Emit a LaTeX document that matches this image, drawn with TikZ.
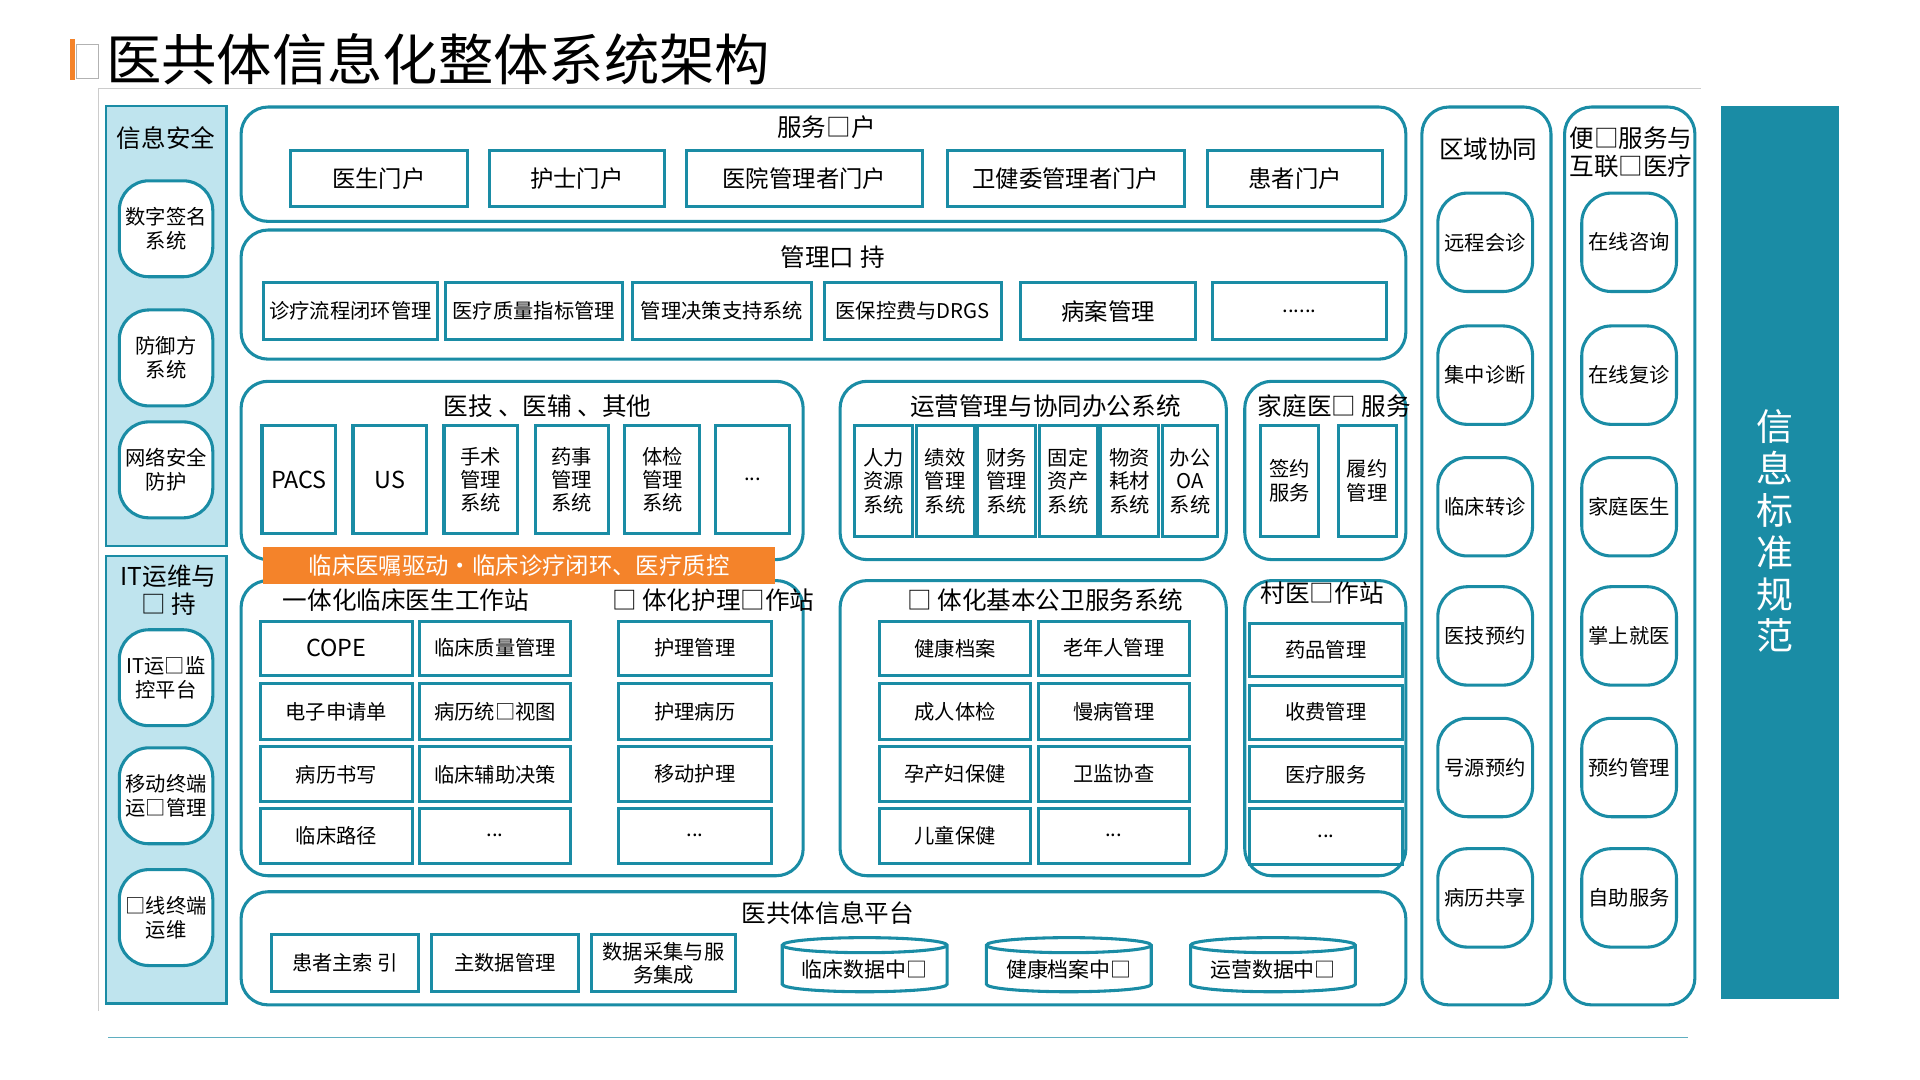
\documentclass[tikz,border=0pt]{standalone}
\usepackage{fontspec}
\setmainfont{Noto Sans CJK SC}
\usetikzlibrary{shapes.geometric,calc}
\definecolor{tl}{HTML}{1A8CA5}
\definecolor{lb}{HTML}{BFE4EE}
\definecolor{og}{HTML}{F4832A}
\begin{document}
\begin{tikzpicture}[x=1pt,y=-1pt,
 panel/.style={draw=tl,line width=2.5pt,rounded corners=22pt},
 box/.style={draw=tl,line width=2.5pt,inner sep=0pt,align=center,font=\fontsize{19}{22}\selectfont},
 sbox/.style={box,font=\fontsize{16.5}{19}\selectfont},
 pill/.style={draw=tl,line width=2.5pt,rounded corners=24pt,inner sep=0pt,align=center,font=\fontsize{16.5}{19.5}\selectfont,fill=white},
 ttl/.style={font=\fontsize{20}{23}\selectfont,inner sep=0pt},
 cyl/.style={cylinder,shape border rotate=90,aspect=0.12,draw=tl,line width=2.5pt,inner sep=0pt,font=\fontsize{17}{20}\selectfont}]
\useasboundingbox (0,0) rectangle (1561,878);
\newcommand\bx[7][box]{\node[#1,minimum width={(#4-#2)*1pt},minimum height={(#5-#3)*1pt}] (#7) at ({(#2+#4)/2},{(#3+#5)/2}) {#6};}
\newcommand\pl[6]{\node[pill,minimum width={(#3-#2)*1pt},minimum height={(#5-#4)*1pt}] (#1) at ({(#2+#3)/2},{(#4+#5)/2}) {#6};}
% title
\fill[og] (57,32) rectangle (61,65);
\draw[gray!60] (62,36) rectangle (80,64);
\node[anchor=west,inner sep=0pt,font=\fontsize{45}{48}\selectfont] (title) at (86,48) {医共体信息化整体系统架构};
\draw[gray!40] (80,822) -- (80,72) -- (1383,72);
\draw[tl!70] (88,843) -- (1372,843);
% left column
\draw[tl,line width=2pt,fill=lb] (86,86) rectangle (184,444);
\draw[tl,line width=2pt,fill=lb] (86,452) rectangle (184,816);
\node[ttl] (aq) at (135,112) {信息安全};
\node[ttl,align=center] (yw) at (137,480) {IT运维与\\□ 持};
\pl{l1}{97}{173}{147}{225}{数字签名\\系统}
\pl{l2}{97}{173}{252}{330}{防御方\\系统}
\pl{l3}{97}{173}{343}{421}{网络安全\\防护}
\pl{l4}{97}{173}{512}{590}{IT运□监\\控平台}
\pl{l5}{97}{173}{608}{686}{移动终端\\运□管理}
\pl{l6}{97}{173}{707}{785}{□线终端\\运维}
% 服务门户
\draw[panel] (196,87) rectangle (1143,180);
\node[ttl] (p1) at (672,103) {服务□户};
\bx{236}{122}{380}{168}{医生门户}{a1}
\bx{398}{122}{540}{168}{护士门户}{a2}
\bx{558}{122}{750}{168}{医院管理者门户}{a3}
\bx{770}{122}{963}{168}{卫健委管理者门户}{a4}
\bx{982}{122}{1124}{168}{患者门户}{a5}
% 管理支持
\draw[panel] (196,187) rectangle (1143,292);
\node[ttl] (p2) at (677,209) {管理口 持};
\bx[sbox]{214}{230}{356}{276}{诊疗流程闭环管理}{b1}
\bx[sbox]{362}{230}{506}{276}{医疗质量指标管理}{b2}
\bx[sbox]{514}{230}{660}{276}{管理决策支持系统}{b3}
\bx[sbox]{670}{230}{814}{276}{医保控费与DRGS}{b4}
\bx{830}{230}{972}{276}{病案管理}{b5}
\bx[sbox]{986}{230}{1127}{276}{......}{b6}
% 医技
\draw[panel] (196,310) rectangle (653,455);
\node[ttl] (p3) at (445,330) {医技 、医辅 、其他};
\bx{213}{346}{273}{434}{PACS}{c1}
\bx{287}{346}{347}{434}{US}{c2}
\bx[sbox]{361}{346}{421}{434}{手术\\管理\\系统}{c3}
\bx[sbox]{435}{346}{495}{434}{药事\\管理\\系统}{c4}
\bx[sbox]{508}{346}{569}{434}{体检\\管理\\系统}{c5}
\bx[sbox]{582}{346}{642}{434}{...}{c6}
% 运营
\draw[panel] (683,310) rectangle (997,455);
\node[ttl] (p4) at (850,330) {运营管理与协同办公系统};
\bx[sbox]{695}{346}{742}{436}{人力\\资源\\系统}{d1}
\bx[sbox]{745}{346}{792}{436}{绩效\\管理\\系统}{d2}
\bx[sbox]{795}{346}{842}{436}{财务\\管理\\系统}{d3}
\bx[sbox]{845}{346}{892}{436}{固定\\资产\\系统}{d4}
\bx[sbox]{895}{346}{942}{436}{物资\\耗材\\系统}{d5}
\bx[sbox]{945}{346}{990}{436}{办公\\OA\\系统}{d6}
% 家庭医生
\draw[panel] (1012,310) rectangle (1143,455);
\node[ttl] (p5) at (1085,330) {家庭医□ 服务};
\bx[sbox]{1025}{346}{1072}{436}{签约\\服务}{e1}
\bx[sbox]{1088}{346}{1135}{436}{履约\\管理}{e2}
% 临床
\draw[panel] (196,472) rectangle (653,712);
\node[ttl] (p6) at (330,488) {一体化临床医生工作站};
\node[ttl] (p7) at (580,488) {□ 体化护理□作站};
\bx{212}{505}{335}{549}{COPE}{f1}
\bx[sbox]{341}{505}{464}{549}{临床质量管理}{f2}
\bx[sbox]{503}{505}{627}{549}{护理管理}{f3}
\bx[sbox]{212}{556}{335}{601}{电子申请单}{f4}
\bx[sbox]{341}{556}{464}{601}{病历统□视图}{f5}
\bx[sbox]{503}{556}{627}{601}{护理病历}{f6}
\bx[sbox]{212}{607}{335}{652}{病历书写}{f7}
\bx[sbox]{341}{607}{464}{652}{临床辅助决策}{f8}
\bx[sbox]{503}{607}{627}{652}{移动护理}{f9}
\bx[sbox]{212}{657}{335}{702}{临床路径}{f10}
\bx[sbox]{341}{657}{464}{702}{...}{f11}
\bx[sbox]{503}{657}{627}{702}{...}{f12}
% banner
\node[fill=og,text=white,minimum width=416pt,minimum height=30pt,inner sep=0pt,font=\fontsize{19}{22}\selectfont] (ban) at (422,460) {临床医嘱驱动·临床诊疗闭环、医疗质控};
% 公卫
\draw[panel] (683,472) rectangle (997,712);
\node[ttl] (p8) at (850,488) {□ 体化基本公卫服务系统};
\bx[sbox]{715}{505}{838}{549}{健康档案}{g1}
\bx[sbox]{844}{505}{967}{549}{老年人管理}{g2}
\bx[sbox]{715}{556}{838}{601}{成人体检}{g3}
\bx[sbox]{844}{556}{967}{601}{慢病管理}{g4}
\bx[sbox]{715}{607}{838}{652}{孕产妇保健}{g5}
\bx[sbox]{844}{607}{967}{652}{卫监协查}{g6}
\bx[sbox]{715}{657}{838}{702}{儿童保健}{g7}
\bx[sbox]{844}{657}{967}{702}{...}{g8}
% 村医
\draw[panel] (1012,472) rectangle (1143,712);
\node[ttl] (p9) at (1075,482) {村医□作站};
\bx[sbox]{1016}{507}{1140}{550}{药品管理}{h1}
\bx[sbox]{1016}{557}{1140}{601}{收费管理}{h2}
\bx[sbox]{1016}{607}{1140}{652}{医疗服务}{h3}
\bx[sbox]{1016}{657}{1140}{703}{...}{h4}
% 平台
\draw[panel] (196,725) rectangle (1143,817);
\node[ttl] (p10) at (673,742) {医共体信息平台};
\bx[sbox]{221}{760}{340}{806}{患者主索 引}{i1}
\bx[sbox]{351}{760}{470}{806}{主数据管理}{i2}
\bx[sbox]{481}{760}{598}{806}{数据采集与服\\务集成}{i3}
\node[cyl,minimum width=134pt,minimum height=44pt] (i4) at (703,788) {临床数据中□};
\node[cyl,minimum width=134pt,minimum height=44pt] (i5) at (869,788) {健康档案中□};
\node[cyl,minimum width=134pt,minimum height=44pt] (i6) at (1035,788) {运营数据中□};
% 区域协同
\draw[panel] (1156,87) rectangle (1261,817);
\node[ttl] (p11) at (1210,121) {区域协同};
\pl{r1}{1169}{1246}{157}{237}{远程会诊}
\pl{r2}{1169}{1246}{265}{345}{集中诊断}
\pl{r3}{1169}{1246}{372}{452}{临床转诊}
\pl{r4}{1169}{1246}{477}{557}{医技预约}
\pl{r5}{1169}{1246}{584}{664}{号源预约}
\pl{r6}{1169}{1246}{690}{770}{病历共享}
% 便民
\draw[panel] (1272,87) rectangle (1378,817);
\node[ttl,align=center] (p12) at (1326,124) {便□服务与\\互联□医疗};
\pl{s1}{1286}{1363}{157}{237}{在线咨询}
\pl{s2}{1286}{1363}{265}{345}{在线复诊}
\pl{s3}{1286}{1363}{372}{452}{家庭医生}
\pl{s4}{1286}{1363}{477}{557}{掌上就医}
\pl{s5}{1286}{1363}{584}{664}{预约管理}
\pl{s6}{1286}{1363}{690}{770}{自助服务}
% 标准
\fill[tl] (1399,86) rectangle (1495,812);
\node[text=white,align=center,font=\fontsize{30}{34}\selectfont] (std) at (1443,432) {信\\息\\标\\准\\规\\范};
\end{tikzpicture}
\end{document}
